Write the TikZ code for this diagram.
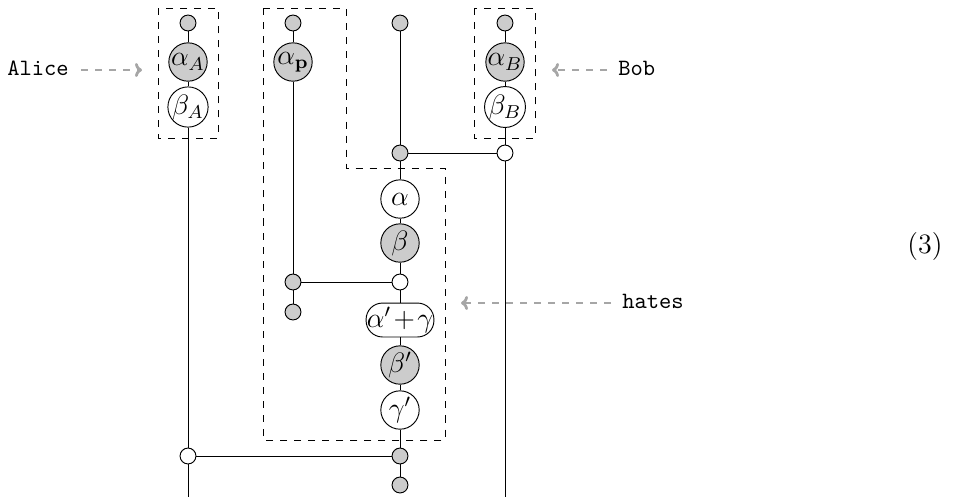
\documentclass[tikz,border=0pt]{standalone}
\usetikzlibrary{arrows.meta}
\begin{document}
\begin{tikzpicture}[x=0.4275pt,y=-0.4275pt,
  big/.style={circle,draw,line width=0.4pt,minimum size=16.4pt,inner sep=0pt,font=\large},
  bigg/.style={big,fill=black!20},
  bigw/.style={big,fill=white},
  dot/.style={circle,draw,line width=0.4pt,minimum size=6.8pt,inner sep=0pt},
  dotg/.style={dot,fill=black!20},
  dotw/.style={dot,fill=white},
  pill/.style={rectangle,rounded corners=7pt,draw,fill=white,line width=0.4pt,minimum height=14.5pt,minimum width=29pt,inner xsep=0.3pt,inner ysep=0pt,font=\large},
  wire/.style={line width=0.4pt},
  box/.style={dashed,line width=0.4pt},
  lab/.style={font=\ttfamily},
  garrow/.style={draw=black!35,dashed,line width=1.2pt,-{To[length=3pt,width=6pt]}}]
\useasboundingbox (0,0) rectangle (957,497);
% dashed boxes
\draw[box] (158,8) rectangle (218,138);
\draw[box] (474,8) rectangle (535,138);
\draw[box] (263,8) -- (346,8) -- (346,168) -- (445,168) -- (445,440) -- (263,440) -- cycle;
% Alice column
\node[dotg] (a0) at (188,23) {};
\node[bigg] (aA) at (188,62) {$\alpha_A$};
\node[bigw] (bA) at (188,107) {$\beta_A$};
\node[dotw] (jA) at (188,456) {};
\coordinate (eA) at (188,497);
% alpha_p column
\node[dotg] (p0) at (293,23) {};
\node[bigg] (aP) at (293,62) {$\alpha_{\mathbf{p}}$};
\node[dotg] (jP) at (293,282) {};
\node[dotg] (pE) at (293,312) {};
% middle column
\node[dotg] (m0) at (400,23) {};
\node[dotg] (jM1) at (400,153) {};
\node[bigw] (al) at (400,199) {$\alpha$};
\node[bigg] (be) at (400,243) {$\beta$};
\node[dotw] (jM2) at (400,282) {};
\node[pill] (ag) at (400,320) {$\alpha'\mkern1.5mu{+}\mkern1.5mu\gamma$};
\node[bigg] (bp) at (400,365) {$\beta'$};
\node[bigw] (gp) at (400,410) {$\gamma'$};
\node[dotg] (jM3) at (400,456) {};
\node[dotg] (mE) at (400,485) {};
% Bob column
\node[dotg] (b0) at (505,23) {};
\node[bigg] (aB) at (505,62) {$\alpha_B$};
\node[bigw] (bB) at (505,107) {$\beta_B$};
\node[dotw] (jB) at (505,153) {};
\coordinate (eB) at (505,497);
% wires
\draw[wire] (a0) -- (aA) -- (bA) -- (jA) -- (eA);
\draw[wire] (jA) -- (jM3);
\draw[wire] (p0) -- (aP) -- (jP) -- (pE);
\draw[wire] (jP) -- (jM2);
\draw[wire] (m0) -- (jM1) -- (al) -- (be) -- (jM2) -- (ag) -- (bp) -- (gp) -- (jM3) -- (mE);
\draw[wire] (jM1) -- (jB);
\draw[wire] (b0) -- (aB) -- (bB) -- (jB) -- (eB);
% labels
\node[lab,anchor=east] (alice) at (77,68) {Alice};
\coordinate (alicet) at (142,70);
\draw[garrow] (alice.east) ++(4,2) -- (alicet);
\node[lab,anchor=west] (bob) at (610,68) {Bob};
\coordinate (bobt) at (552,70);
\draw[garrow] (bob.west) ++(-3,2) -- (bobt);
\node[lab,anchor=west] (hates) at (614,301) {hates};
\coordinate (hatest) at (461,303);
\draw[garrow] (hates.west) ++(-3,2) -- (hatest);
\node[font=\large] (eq) at (925,246) {(3)};
\end{tikzpicture}
\end{document}
